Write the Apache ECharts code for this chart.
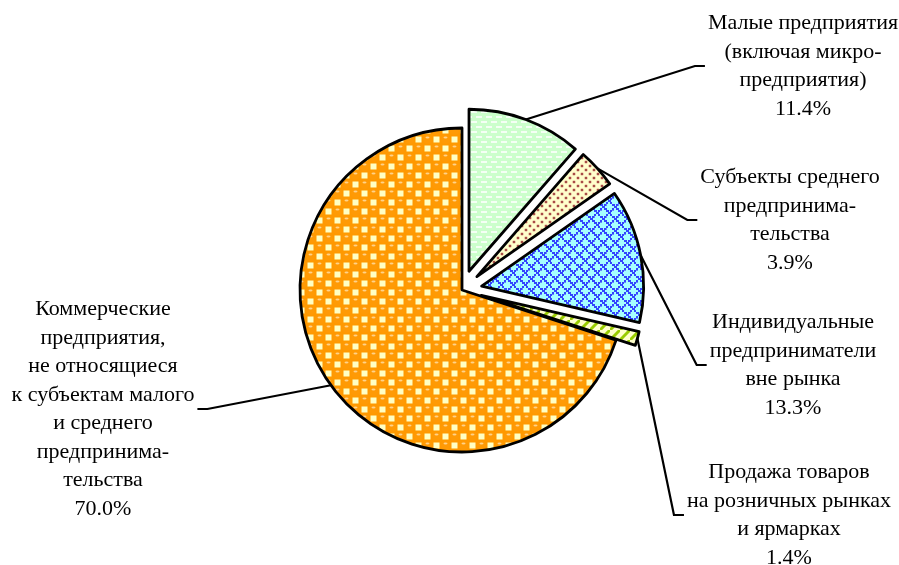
<!DOCTYPE html>
<html>
<head>
<meta charset="utf-8">
<script src="https://cdn.jsdelivr.net/npm/echarts@6/dist/echarts.min.js"></script>
<style>
  html, body { margin: 0; padding: 0; background: #fff; }
  #pie-chart { width: 899px; height: 565px; }
</style>
</head>
<body>
<div id="pie-chart"></div>
<script>
var names = [
    'Малые предприятия\n(включая микро-\nпредприятия)',
    'Субъекты среднего\nпредпринима-\nтельства',
    'Индивидуальные\nпредприниматели\nвне рынка',
    'Продажа товаров\nна розничных рынках\nи ярмарках',
    'Коммерческие\nпредприятия,\nне относящиеся\nк субъектам малого\nи среднего\nпредпринима-\nтельства'
];
var shares = [11.4, 3.9, 13.3, 1.4, 70.0];
var exploded = [true, true, true, true, false];

// label centres (layout only)
var labelPos = [[803, 66], [790, 220], [793, 365], [789, 515], [103, 409]];
var pieCenter = [462, 290];
var explode = 20;

function makeTile(w, h, draw) {
    var c = document.createElement('canvas');
    c.width = w;
    c.height = h;
    draw(c.getContext('2d'));
    return c;
}

// light green with white dashes
var greenTile = makeTile(10, 10, function (g) {
    g.fillStyle = '#ccffcc';
    g.fillRect(0, 0, 10, 10);
    g.fillStyle = '#f4fff4';
    g.fillRect(1, 1, 6, 2);
    g.fillRect(6, 6, 4, 2);
    g.fillRect(0, 6, 2, 2);
});

// light yellow with brown dots
var dotTile = makeTile(8, 8, function (g) {
    g.fillStyle = '#ffffcc';
    g.fillRect(0, 0, 8, 8);
    [[2, 2], [6, 6]].forEach(function (p) {
        g.fillStyle = '#e2b898';
        g.beginPath(); g.arc(p[0], p[1], 1.8, 0, Math.PI * 2); g.fill();
        g.fillStyle = '#993333';
        g.beginPath(); g.arc(p[0], p[1], 1.1, 0, Math.PI * 2); g.fill();
    });
});

// cyan with blue weave
var weaveTile = makeTile(12, 12, function (g) {
    g.fillStyle = '#a6ffff';
    g.fillRect(0, 0, 12, 12);
    g.fillStyle = '#3344ff';
    for (var k = 0; k < 6; k++) {
        g.fillRect(2 * k, 2 * k, 3, 2);
        g.fillRect((10 - 2 * k + 6) % 12, 2 * k, 2, 2);
    }
    g.fillStyle = '#6a86ff';
    g.fillRect(0, 6, 2, 1);
    g.fillRect(6, 0, 1, 2);
});

// orange spheres on light yellow checks
var orangeTile = makeTile(18, 18, function (g) {
    g.fillStyle = '#ff9900';
    g.fillRect(0, 0, 18, 18);
    g.fillStyle = '#ffffc4';
    g.fillRect(10.5, 1.5, 6, 6);
    g.fillRect(1.5, 10.5, 6, 6);
    [[4.5, 4.5], [13.5, 13.5]].forEach(function (p) {
        g.fillStyle = '#ff9a05';
        g.beginPath(); g.arc(p[0], p[1], 4.5, 0, Math.PI * 2); g.fill();
        g.fillStyle = '#ffd28a';
        g.beginPath(); g.ellipse(p[0], p[1] - 2, 2, 0.9, 0, 0, Math.PI * 2); g.fill();
    });
});

// light yellow with green streaks
var limeTile = makeTile(10, 10, function (g) {
    g.fillStyle = '#ffffcc';
    g.fillRect(0, 0, 10, 10);
    g.strokeStyle = '#99cc00';
    g.lineWidth = 3;
    g.beginPath(); g.moveTo(0, 10); g.lineTo(10, 0); g.stroke();
});

var tiles = [greenTile, dotTile, weaveTile, limeTile, orangeTile];

var chartDom = document.getElementById('pie-chart');
var myChart = echarts.init(chartDom);
var option;

var total = 0;
shares.forEach(function (v) { total += v; });

function placeLabel(p) {
    var pos = labelPos[p.dataIndex];
    var w = p.labelRect.width;
    var onLeft = pos[0] < pieCenter[0];
    var edgeX = onLeft ? pos[0] + w / 2 + 3 : pos[0] - w / 2 - 3;
    var elbowX = onLeft ? edgeX + 10 : edgeX - 10;
    var p0 = p.labelLinePoints ? p.labelLinePoints[0] : [pos[0], pos[1]];
    return {
        x: pos[0],
        y: pos[1],
        align: 'center',
        verticalAlign: 'middle',
        labelLinePoints: [
            [p0[0], p0[1]],
            [elbowX, pos[1]],
            [edgeX, pos[1]]
        ]
    };
}

// one pie per slice so each exploded slice gets its own centre
var seriesList = [];
var acc = 0;
for (var k = 0; k < shares.length; k++) {
    var mid = (acc + shares[k] / 2) / total * Math.PI * 2;
    acc += shares[k];
    var off = exploded[k] ? explode : 0;
    var data = [];
    for (var i = 0; i < shares.length; i++) {
        var own = i === k;
        data.push({
            name: names[i],
            value: shares[i],
            itemStyle: own
                ? { color: { image: tiles[i], repeat: 'repeat' }, borderColor: '#000', borderWidth: 2.8 }
                : { color: 'rgba(0,0,0,0)', borderWidth: 0 },
            label: { show: own },
            labelLine: { show: own }
        });
    }
    seriesList.push({
        type: 'pie',
        center: [pieCenter[0] + off * Math.sin(mid), pieCenter[1] - off * Math.cos(mid)],
        radius: 162,
        startAngle: 90,
        clockwise: true,
        silent: true,
        avoidLabelOverlap: false,
        emphasis: { disabled: true },
        label: {
            position: 'outside',
            color: '#000',
            fontFamily: '"Liberation Serif", "Times New Roman", serif',
            fontSize: 22,
            lineHeight: 28.5,
            align: 'center',
            formatter: function (p) {
                return p.name + '\n' + p.value.toFixed(1) + '%';
            }
        },
        labelLine: {
            length: 10,
            length2: 10,
            lineStyle: { color: '#000', width: 2.2 }
        },
        labelLayout: placeLabel,
        data: data
    });
}

option = {
    backgroundColor: '#ffffff',
    animation: false,
    series: seriesList
};

option && myChart.setOption(option);
</script>
</body>
</html>
